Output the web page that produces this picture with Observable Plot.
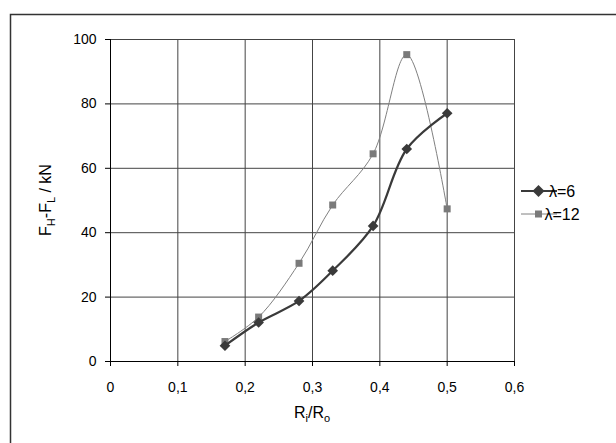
<!DOCTYPE html>
<html><head><meta charset="utf-8">
<script src="https://cdn.jsdelivr.net/npm/d3@7"></script>
<script src="https://cdn.jsdelivr.net/npm/@observablehq/plot@0.6"></script>
<style>body{margin:0;background:#fff} svg{display:block}</style>
</head><body><div id="chart"></div>
<script>
// Data
const ratio = [0.17, 0.22, 0.28, 0.33, 0.39, 0.44, 0.50];
const lambda6 = [4.9, 12.1, 18.8, 28.2, 42.1, 66.0, 77.1];
const lambda12 = [6.2, 13.8, 30.5, 48.6, 64.5, 95.3, 47.4];
const seriesNames = ["λ=6", "λ=12"];
const xTicks = [0, 0.1, 0.2, 0.3, 0.4, 0.5, 0.6];
const yTicks = [0, 20, 40, 60, 80, 100];

const s6 = ratio.map((r, i) => ({x: r, y: lambda6[i], s: seriesNames[0]}));
const s12 = ratio.map((r, i) => ({x: r, y: lambda12[i], s: seriesNames[1]}));

const font = "'Liberation Sans', Arial, sans-serif";
const chart = Plot.plot({
  width: 616, height: 443,
  marginLeft: 110, marginRight: 102, marginTop: 39, marginBottom: 82,
  style: {fontFamily: font, fontSize: "14px", color: "#000", background: "#fff", overflow: "visible"},
  x: {domain: [0, 0.6]},
  y: {domain: [0, 100]},
  marks: [
    Plot.gridX(xTicks.slice(1), {stroke: "#444", strokeOpacity: 1, strokeWidth: 1}),
    Plot.gridY(yTicks.slice(1), {stroke: "#444", strokeOpacity: 1, strokeWidth: 1}),
    Plot.ruleX([0], {stroke: "#000"}),
    Plot.ruleY([0], {stroke: "#000"}),
    Plot.axisX(xTicks, {tickSize: 5, tickPadding: 16, tickFormat: d => String(d).replace(".", ","), label: null, fontSize: 14, stroke: "#000"}),
    Plot.axisY(yTicks, {tickSize: 5, tickPadding: 9, label: null, fontSize: 14, stroke: "#000"}),
    Plot.line(s12, {x: "x", y: "y", curve: "catmull-rom", stroke: "#808080", strokeWidth: 1}),
    Plot.dot(s12, {x: "x", y: "y", symbol: "square", r: 3.95, fill: "#7a7a7a", stroke: "none"}),
    Plot.line(s6, {x: "x", y: "y", curve: "catmull-rom", stroke: "#3a3a3a", strokeWidth: 2.2}),
    Plot.dot(s6, {x: "x", y: "y", symbol: "diamond2", r: 4.8, fill: "#3a3a3a", stroke: "none"})
  ]
});
document.getElementById("chart").appendChild(chart);

const svg = d3.select(chart);
// outer chart-area border
svg.insert("rect", ":first-child")
  .attr("x", 10.5).attr("y", 14.5).attr("width", 700).attr("height", 600)
  .attr("fill", "none").attr("stroke", "#333").attr("stroke-width", 1.5);

// y-axis title
const yt = svg.append("text")
  .attr("transform", "translate(51,200) rotate(-90)")
  .attr("text-anchor", "middle").attr("font-family", font).attr("font-size", 16).attr("fill", "#000");
yt.append("tspan").text("F");
yt.append("tspan").attr("font-size", 11).attr("dy", 4).text("H");
yt.append("tspan").attr("dy", -4).text("-F");
yt.append("tspan").attr("font-size", 11).attr("dy", 4).text("L");
yt.append("tspan").attr("dy", -4).text(" / kN");

// x-axis title
const xt = svg.append("text")
  .attr("x", 312).attr("y", 418)
  .attr("text-anchor", "middle").attr("font-family", font).attr("font-size", 16).attr("fill", "#000");
xt.append("tspan").text("R");
xt.append("tspan").attr("font-size", 11).attr("dy", 4).text("i");
xt.append("tspan").attr("dy", -4).text("/R");
xt.append("tspan").attr("font-size", 11).attr("dy", 4).text("o");

// legend
const leg = [
  {name: seriesNames[0], y: 191, color: "#3a3a3a", w: 2.2, sym: "diamond"},
  {name: seriesNames[1], y: 214, color: "#808080", w: 1, sym: "square"}
];
leg.forEach(d => {
  svg.append("line").attr("x1", 521).attr("x2", 557).attr("y1", d.y).attr("y2", d.y)
    .attr("stroke", d.color).attr("stroke-width", d.w);
  if (d.sym === "diamond") {
    svg.append("path").attr("d", "M538.5," + (d.y - 6) + "L544.5," + d.y + "L538.5," + (d.y + 6) + "L532.5," + d.y + "Z").attr("fill", d.color);
  } else {
    svg.append("rect").attr("x", 535).attr("y", d.y - 3.5).attr("width", 7).attr("height", 7).attr("fill", "#7a7a7a");
  }
  svg.append("text").attr("x", 562).attr("y", d.y + 6).attr("font-family", font).attr("font-size", 16)
    .attr("fill", "#000").text(d.name);
});
</script></body></html>
